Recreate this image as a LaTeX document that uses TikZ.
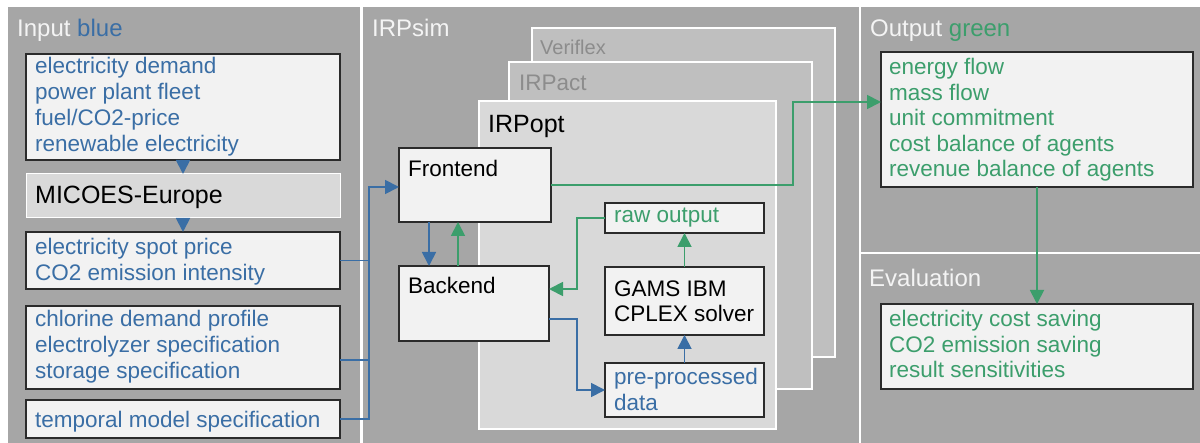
\documentclass[tikz,border=0pt]{standalone}
\usepackage{fontspec}
\setmainfont{Liberation Sans}
\usetikzlibrary{arrows.meta}
\definecolor{panelgray}{HTML}{A6A6A6}
\definecolor{boxfill}{HTML}{F2F2F2}
\definecolor{boxdraw}{HTML}{2B2B2B}
\definecolor{micoesfill}{HTML}{D9D9D9}
\definecolor{layerfill}{HTML}{BFBFBF}
\definecolor{optfill}{HTML}{D9D9D9}
\definecolor{layertext}{HTML}{8C8C8C}
\definecolor{titletext}{HTML}{F4F4F4}
\definecolor{myblue}{HTML}{3A6EA5}
\definecolor{mygreen}{HTML}{3C9E6C}
\newcommand{\mylines}[1]{\begin{tabular}[t]{@{}l@{}}#1\end{tabular}}
\begin{document}
\begin{tikzpicture}[x=1pt,y=-1pt,
  panel/.style={fill=panelgray,draw=none},
  box/.style={draw=boxdraw,fill=boxfill,line width=1.2pt,inner sep=0pt,outer sep=0pt,anchor=north west},
  mbox/.style={draw=white,fill=micoesfill,line width=1pt,inner sep=0pt,outer sep=0pt,anchor=north west},
  layer/.style={draw=white,line width=1.2pt,inner sep=0pt,outer sep=0pt,anchor=north west},
  body/.style={anchor=base west,inner sep=0pt,font=\fontsize{22.5}{26}\selectfont},
  bodyo/.style={anchor=base west,inner sep=0pt,font=\fontsize{22.5}{25.5}\selectfont},
  title/.style={anchor=base west,inner sep=0pt,font=\fontsize{24}{28}\selectfont,text=titletext},
  big/.style={anchor=base west,inner sep=0pt,font=\fontsize{25}{30}\selectfont,text=black},
  bl/.style={draw=myblue,line width=1.8pt},
  gl/.style={draw=mygreen,line width=1.8pt},
  arr/.style={-{Triangle[length=14pt,width=14pt]}}
]
\useasboundingbox (0,0) rectangle (1200,443);
\fill[white] (0,0) rectangle (1200,443);
% panels
\fill[panel] (8,7) rectangle (360,443);
\fill[panel] (362.5,7) rectangle (859,443);
\fill[panel] (861,7) rectangle (1200,252.5);
\fill[panel] (861,254.5) rectangle (1200,443);
% titles
\node[title] (tin) at (17,37) {Input \textcolor{myblue}{blue}};
\node[title] (tsim) at (372,37) {IRPsim};
\node[title] (tout) at (870,37) {Output \textcolor{mygreen}{green}};
\node[title] (teval) at (869,287) {Evaluation};
% layers
\node[layer,fill=layerfill,minimum width=303pt,minimum height=329pt] (veri) at (532,28) {};
\node[anchor=base west,inner sep=0pt,font=\fontsize{20}{24}\selectfont,text=layertext] (tveri) at (540,55) {Veriflex};
\node[layer,fill=layerfill,minimum width=303pt,minimum height=327pt] (act) at (509,62) {};
\node[anchor=base west,inner sep=0pt,font=\fontsize{22.5}{26}\selectfont,text=layertext] (tact) at (519,91) {IRPact};
\node[layer,fill=optfill,minimum width=297pt,minimum height=328pt] (opt) at (479,101) {};
\node[big] (topt) at (488,133) {IRPopt};
% input boxes
\node[box,minimum width=314pt,minimum height=106pt] (in1) at (26,54) {};
\node[body,text=myblue] (tin1) at (35,74) {\mylines{electricity demand\\power plant fleet\\fuel/CO2-price\\renewable electricity}};
\node[mbox,minimum width=314pt,minimum height=44pt] (mic) at (26,174) {};
\node[big] (tmic) at (35,204) {MICOES-Europe};
\node[box,minimum width=314pt,minimum height=57pt] (in3) at (26,232) {};
\node[body,text=myblue] (tin3) at (35,255) {\mylines{electricity spot price\\CO2 emission intensity}};
\node[box,minimum width=314pt,minimum height=83pt] (in4) at (26,306) {};
\node[body,text=myblue] (tin4) at (35,327) {\mylines{chlorine demand profile\\electrolyzer specification\\storage specification}};
\node[box,minimum width=314pt,minimum height=38pt] (in5) at (26,400) {};
\node[body,text=myblue] (tin5) at (35,428) {temporal model specification};
% IRPsim boxes
\node[box,minimum width=152pt,minimum height=74pt] (front) at (399,148) {};
\node[body,text=black] (tfront) at (408,177) {Frontend};
\node[box,minimum width=150pt,minimum height=75pt] (back) at (399,266) {};
\node[body,text=black] (tback) at (408,294) {Backend};
\node[box,minimum width=159pt,minimum height=30pt] (raw) at (605,203) {};
\node[body,text=mygreen] (traw) at (614,223) {raw output};
\node[box,minimum width=159pt,minimum height=68pt] (gams) at (605,267) {};
\node[body,text=black,font=\fontsize{22.5}{25}\selectfont] (tgams) at (614,297) {\mylines{GAMS IBM\\CPLEX solver}};
\node[box,minimum width=159pt,minimum height=54pt] (pre) at (605,363) {};
\node[body,text=myblue] (tpre) at (614,385) {\mylines{pre-processed\\data}};
% output boxes
\node[box,minimum width=312pt,minimum height=135pt] (outb) at (881,52) {};
\node[bodyo,text=mygreen] (tout1) at (889,75) {\mylines{energy flow\\mass flow\\unit commitment\\cost balance of agents\\revenue balance of agents}};
\node[box,minimum width=312pt,minimum height=85pt] (evalb) at (881,304) {};
\node[bodyo,text=mygreen] (teval1) at (889,327) {\mylines{electricity cost saving\\CO2 emission saving\\result sensitivities}};
% input connectors
\draw[bl,arr] (in1.south) -- (mic.north);
\draw[bl,arr] (mic.south) -- (in3.north);
\coordinate (bus) at (369,187);
\coordinate (p4) at ([yshift=-12.5pt]in4.east);
\draw[bl] (in3.east) -- (in3.east -| bus);
\draw[bl] (p4) -- (p4 -| bus);
\draw[bl,arr] (in5.east) -| (bus) -- (bus -| front.west);
% frontend/backend
\coordinate (fb1) at ([xshift=-46pt]front.south);
\coordinate (fb2) at ([xshift=-17pt]front.south);
\draw[bl,arr] (fb1) -- (fb1 |- back.north);
\draw[gl,arr] (fb2 |- back.north) -- (fb2);
% inner connectors
\coordinate (g2) at (577,289);
\draw[gl,arr] (raw.west) -| (g2) -- (g2 -| back.east);
\coordinate (b2a) at ([yshift=-15.5pt]back.east);
\coordinate (b2) at (577,390);
\draw[bl,arr] (b2a) -| (b2) -- (pre.west);
\draw[bl,arr] (pre.north) -- (gams.south);
\draw[gl,arr] (gams.north) -- (raw.south);
% to output
\coordinate (g1) at (793,102);
\draw[gl,arr] (front.east) -| (g1) -- (g1 -| outb.west);
\draw[gl,arr] (outb.south) -- (evalb.north);
\end{tikzpicture}
\end{document}
